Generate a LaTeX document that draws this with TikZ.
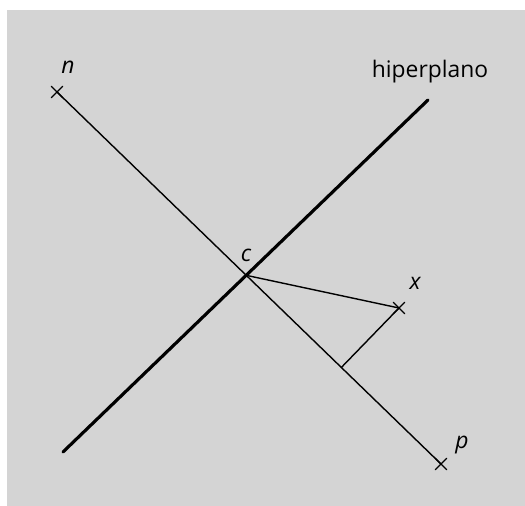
\documentclass[tikz,border=0pt]{standalone}
\usepackage{fontspec}
\setsansfont{Open Sans}
\usepackage{tikz}
\usetikzlibrary{calc,shapes.misc}
\definecolor{bggray}{HTML}{D4D4D4}
\tikzset{
  every picture/.style={font=\sffamily, line join=round, line cap=round},
  thinline/.style={line width=0.8pt},
  plane/.style={line width=1.8pt},
  crossmark/.style={cross out, draw, line width=0.8pt, minimum size=0.2cm, inner sep=0pt},
  lbl/.style={font=\sffamily\itshape\fontsize{13}{15}\selectfont},
}

\begin{document}
\begin{tikzpicture}[x=0.02cm,y=-0.02cm]
\useasboundingbox (0,0) rectangle (525,506);
\fill[bggray] (7,10) rectangle (525,506);
% points
\coordinate (n) at (57,92);
\coordinate (p) at (441,464);
\coordinate (h1) at (63,452);
\coordinate (h2) at (428,100);
\coordinate (x) at (399,308);
\coordinate (c) at (intersection of n--p and h1--h2);
\coordinate (f) at ($(n)!(x)!(p)$);
% lines
\draw[thinline] (n)--(p);
\draw[plane] (h1)--(h2);
\draw[thinline] (c)--(x);
\draw[thinline] (x)--(f);
% marks and labels
\node[crossmark] (nm) at (n) {};
\node[crossmark] (pm) at (p) {};
\node[crossmark] (xm) at (x) {};
\node[lbl] (nl) at (68,67) {n};
\node[lbl] (pl) at (462,445) {p};
\node[lbl] (xl) at (415,283) {x};
\node[lbl] (cl) at (246,255) {c};
\node[font=\sffamily\fontsize{13}{15}\selectfont] (hl) at (430,72) {hiperplano};
\end{tikzpicture}
\end{document}
